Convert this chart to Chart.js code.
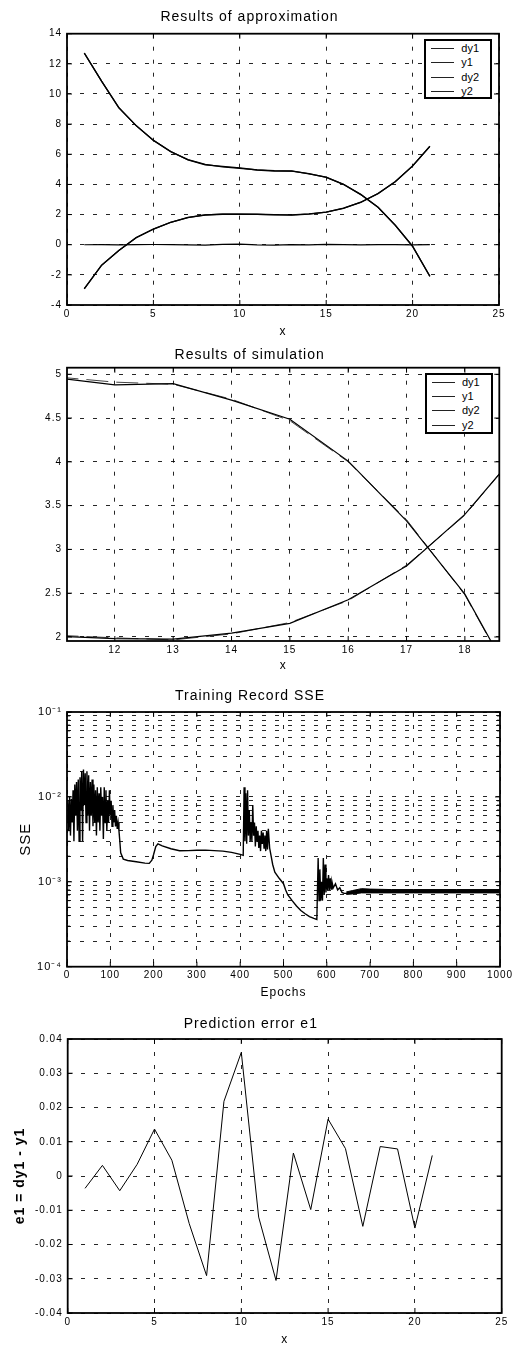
<!DOCTYPE html>
<html>
<head>
<meta charset="utf-8">
<script src="https://cdn.jsdelivr.net/npm/chart.js@4.4.0/dist/chart.umd.min.js"></script>
<style>
  body { margin: 0; background: #fff; }
  #page { position: relative; width: 519px; height: 1347px; }
  .panel { position: absolute; left: 0; width: 519px; }
  .legend { position: absolute; border: 2px solid #000; background: #fff; box-sizing: border-box;
            font: 11px "Liberation Sans", Arial, sans-serif; color: #000; }
  .legend div { position: relative; height: 14.3px; line-height: 14.3px; }
  .legend .line { position: absolute; left: 5px; top: 7px; width: 23px; height: 1px; background: #222; }
  .legend .txt { position: absolute; left: 35px; top: 0; }
</style>
</head>
<body>
<div id="page">
  <div class="panel" id="p1" style="top:0px;height:340px"><canvas id="c1" width="519" height="340"></canvas></div>
  <div class="panel" id="p2" style="top:340px;height:334px"><canvas id="c2" width="519" height="334"></canvas></div>
  <div class="panel" id="p3" style="top:674px;height:326px"><canvas id="c3" width="519" height="326"></canvas></div>
  <div class="panel" id="p4" style="top:1000px;height:347px"><canvas id="c4" width="519" height="347"></canvas></div>
</div>
<script>
// --- data ---
const xs = [1, 2, 3, 4, 5, 6, 7, 8, 9, 10, 11, 12, 13, 14, 15, 16, 17, 18, 19, 20, 21];
const y1 = [12.72, 10.85, 9.09, 7.90, 6.92, 6.18, 5.64, 5.33, 5.17, 5.06, 4.97, 4.91, 4.886, 4.715, 4.47, 4.00, 3.34, 2.48, 1.28, -0.10, -2.10];
const dy1 = [12.716, 10.853, 9.086, 7.903, 6.934, 6.185, 5.626, 5.301, 5.192, 5.096, 4.958, 4.880, 4.893, 4.705, 4.487, 4.008, 3.325, 2.489, 1.288, -0.115, -2.094];
const y2 = [-2.92, -1.37, -0.38, 0.46, 1.04, 1.48, 1.81, 1.97, 2.02, 2.03, 2.02, 1.99, 1.967, 2.035, 2.165, 2.415, 2.82, 3.39, 4.19, 5.22, 6.53];
const dy2 = [-2.93, -1.36, -0.39, 0.47, 1.03, 1.49, 1.80, 1.98, 2.03, 2.02, 2.01, 1.98, 1.975, 2.045, 2.155, 2.425, 2.81, 3.40, 4.18, 5.23, 6.52];
const e1 = [-0.0036, 0.0031, -0.0043, 0.0034, 0.0137, 0.0046, -0.0139, -0.0291, 0.0218, 0.0361, -0.012, -0.0305, 0.0067, -0.0098, 0.0166, 0.008, -0.0147, 0.0086, 0.0079, -0.0152, 0.006];
const seriesNames = ['dy1', 'y1', 'dy2', 'y2'];

const sseEpochs = [
  0, 2, 4, 6, 8, 10, 12, 14, 16, 18, 20, 22, 24, 26, 28, 30, 32, 34, 36, 38, 40, 42, 44, 46, 48, 50,
  52, 54, 56, 58, 60, 62, 64, 66, 68, 70, 72, 74, 76, 78, 80, 82, 84, 86, 88, 90, 92, 94, 96, 98, 100,
  102, 104, 106, 108, 110, 112, 114, 116, 118, 120, 122, 124,
  130, 140, 160, 180, 190, 196, 200, 205, 210, 220, 240, 260, 280, 300, 320, 340, 360, 380, 400, 407,
  409, 411, 413, 415, 417, 419, 421, 423, 425, 427, 429, 431, 433, 435, 437, 439, 441, 443, 445, 447,
  449, 451, 453, 455, 457, 459, 461, 463, 465, 468,
  475, 480, 490, 500, 505, 510, 520, 530, 540, 550, 560, 570, 577,
  580, 582, 584, 586, 588, 590, 592, 594, 596, 598, 600, 602, 604, 606, 608, 610, 612, 615, 620, 625,
  630, 635, 640, 650
];
const sseValues = [
  5.0e-3, 9.0e-3, 4.0e-3, 1.0e-2, 3.5e-3, 9.5e-3, 5.0e-3, 1.2e-2, 3.0e-3, 1.4e-2, 6.0e-3, 1.5e-2, 4.0e-3,
  1.6e-2, 3.0e-3, 1.7e-2, 7.0e-3, 2.0e-2, 3.0e-3, 2.1e-2, 8.0e-3, 1.9e-2, 5.0e-3, 2.0e-2, 6.0e-3, 1.8e-2,
  4.0e-3, 1.5e-2, 6.0e-3, 1.6e-2, 4.5e-3, 1.4e-2, 5.0e-3, 1.2e-2, 3.5e-3, 1.3e-2, 5.0e-3, 1.1e-2, 4.0e-3,
  1.3e-2, 6.0e-3, 1.0e-2, 3.2e-3, 1.3e-2, 5.0e-3, 1.2e-2, 4.0e-3, 9.0e-3, 5.0e-3, 1.2e-2, 6.0e-3,
  9.0e-3, 4.5e-3, 8.0e-3, 5.0e-3, 7.0e-3, 4.5e-3, 6.0e-3, 4.2e-3, 5.0e-3, 4.0e-3, 3.0e-3, 2.2e-3,
  1.85e-3, 1.78e-3, 1.72e-3, 1.66e-3, 1.65e-3, 1.8e-3, 2.1e-3, 2.6e-3, 2.8e-3, 2.65e-3, 2.45e-3, 2.32e-3,
  2.33e-3, 2.35e-3, 2.36e-3, 2.33e-3, 2.3e-3, 2.22e-3, 2.1e-3, 2.05e-3,
  1.3e-2, 3.0e-3, 1.1e-2, 2.8e-3, 1.2e-2, 3.5e-3, 7.0e-3, 3.0e-3, 5.0e-3, 3.0e-3, 8.0e-3, 3.5e-3, 5.0e-3,
  2.6e-3, 4.5e-3, 3.0e-3, 4.0e-3, 2.5e-3, 3.5e-3, 2.3e-3, 4.0e-3, 2.8e-3, 3.8e-3, 2.5e-3, 3.5e-3, 2.3e-3,
  4.0e-3, 2.4e-3, 4.2e-3, 2.5e-3,
  1.6e-3, 1.3e-3, 1.1e-3, 9.5e-4, 8.0e-4, 7.0e-4, 6.0e-4, 5.2e-4, 4.6e-4, 4.2e-4, 3.9e-4, 3.7e-4, 3.6e-4,
  1.9e-3, 6.0e-4, 1.4e-3, 6.0e-4, 1.0e-3, 6.0e-4, 1.9e-3, 7.0e-4, 1.6e-3, 7.5e-4, 1.1e-3, 8.0e-4, 1.2e-3,
  8.0e-4, 1.1e-3, 8.2e-4, 1.0e-3, 8.5e-4, 9.5e-4, 8.0e-4, 8.5e-4, 7.5e-4, 7.3e-4, 7.3e-4
];
// the late, fast oscillation is drawn as a filled band between its envelopes
const bandEpochs = [645, 660, 680, 700, 750, 800, 900, 1000];
const bandUpper = [7.6e-4, 7.9e-4, 8.3e-4, 8.2e-4, 8.1e-4, 8.1e-4, 8.1e-4, 8.1e-4];
const bandLower = [7.1e-4, 7.2e-4, 7.4e-4, 7.4e-4, 7.4e-4, 7.4e-4, 7.4e-4, 7.4e-4];

// --- helpers ---
Chart.defaults.font.family = '"Liberation Sans", Arial, Helvetica, sans-serif';
Chart.defaults.color = '#000';

const SUP = { '-': '\u207B', '0': '\u2070', '1': '\u00B9', '2': '\u00B2', '3': '\u00B3', '4': '\u2074',
              '5': '\u2075', '6': '\u2076', '7': '\u2077', '8': '\u2078', '9': '\u2079' };

function pts(xv, yv) { return xv.map((x, i) => ({ x: x, y: yv[i] })); }

function lineSet(label, xv, yv, extra) {
  return Object.assign({
    label: label, data: pts(xv, yv), borderColor: '#000', borderWidth: 1.3,
    pointRadius: 0, fill: false, tension: 0
  }, extra || {});
}

// old plotting software spaced its letters out a bit
const spacingPlugin = {
  id: 'spacing',
  beforeDraw(chart) { chart.ctx.letterSpacing = '1px'; }
};

// black box round the plot plus small inward tick marks, MATLAB style
const framePlugin = {
  id: 'frame',
  afterDraw(chart) {
    const { ctx, chartArea: a, scales } = chart;
    ctx.save();
    ctx.strokeStyle = '#000';
    ctx.lineWidth = 1;
    ctx.beginPath();
    scales.x.ticks.forEach(t => {
      const p = scales.x.getPixelForValue(t.value);
      ctx.moveTo(p, a.bottom); ctx.lineTo(p, a.bottom - 5);
      ctx.moveTo(p, a.top); ctx.lineTo(p, a.top + 5);
    });
    scales.y.ticks.forEach(t => {
      const p = scales.y.getPixelForValue(t.value);
      const len = scales.y.type === 'logarithmic' && !t.major ? 3 : 5;
      ctx.moveTo(a.left, p); ctx.lineTo(a.left + len, p);
      ctx.moveTo(a.right, p); ctx.lineTo(a.right - len, p);
    });
    ctx.stroke();
    ctx.lineWidth = 1.8;
    ctx.strokeRect(a.left, a.top, a.right - a.left, a.bottom - a.top);
    ctx.restore();
  }
};

function makePanel(canvasId, box, datasets, xOpts, yOpts, titleText) {
  const titleLh = 14 * 1.2;
  const xLh = 12 * 1.2;
  const grid = { color: 'rgba(0,0,0,0.85)', lineWidth: 1, drawTicks: false };
  const border = { display: false, dash: [4, 9] };
  const x = Object.assign({
    type: 'linear', grid: grid, border: border,
    afterFit: s => { s.height = box.H - box.B; }
  }, xOpts);
  x.ticks = Object.assign({ font: { size: 10 }, padding: 3, maxRotation: 0 }, xOpts.ticks || {});
  x.title = Object.assign({
    display: true, font: { size: 12 }, padding: { top: 0, bottom: Math.max(0, box.H - box.xLabelY - xLh / 2) }
  }, xOpts.title || {});
  const y = Object.assign({
    grid: grid, border: border,
    afterFit: s => { s.width = box.L; }
  }, yOpts);
  y.ticks = Object.assign({ font: { size: 10 }, padding: 5 }, yOpts.ticks || {});
  return new Chart(document.getElementById(canvasId), {
    type: 'line',
    data: { datasets: datasets },
    options: {
      responsive: false,
      animation: false,
      devicePixelRatio: 1,
      layout: { padding: { top: box.titleY - titleLh / 2, left: 0, right: 519 - box.R, bottom: 0 } },
      scales: { x: x, y: y },
      plugins: {
        legend: { display: false },
        tooltip: { enabled: false },
        title: {
          display: true, text: titleText, color: '#000',
          font: { size: 14, weight: 'normal' },
          padding: { top: 0, bottom: box.T - box.titleY - titleLh / 2 }
        }
      }
    },
    plugins: [spacingPlugin, framePlugin]
  });
}

function addLegend(panelId, names, pos) {
  const lg = document.createElement('div');
  lg.className = 'legend';
  Object.assign(lg.style, { left: pos.l + 'px', top: pos.t + 'px', width: pos.w + 'px', height: pos.h + 'px' });
  names.forEach(n => {
    const row = document.createElement('div');
    row.innerHTML = '<span class="line"></span><span class="txt">' + n + '</span>';
    lg.appendChild(row);
  });
  document.getElementById(panelId).appendChild(lg);
}

// --- 1. Results of approximation ---
makePanel('c1', { H: 340, L: 67, T: 33.7, R: 499, B: 305, titleY: 17, xLabelY: 332 }, [
  lineSet('dy1', xs, dy1),
  lineSet('y1', xs, y1),
  lineSet('dy2', xs, dy2),
  lineSet('y2', xs, y2),
  lineSet('e1', xs, e1, { borderWidth: 1.2 })
], {
  min: 0, max: 25, ticks: { stepSize: 5 }, title: { text: 'x' }
}, {
  min: -4, max: 14, ticks: { stepSize: 2 }
}, 'Results of approximation');
addLegend('p1', seriesNames, { l: 424.3, t: 39, w: 68, h: 60.3 });

// --- 2. Results of simulation (zoomed view) ---
makePanel('c2', { H: 334, L: 67, T: 27.7, R: 499.3, B: 301, titleY: 15, xLabelY: 326 }, [
  lineSet('dy1', xs, dy1, { borderWidth: 1.2 }),
  lineSet('y1', xs, y1, { borderWidth: 1, borderColor: '#444', borderDash: [22, 8] }),
  lineSet('dy2', xs, dy2, { borderWidth: 1.2 }),
  lineSet('y2', xs, y2, { borderWidth: 1, borderColor: '#444', borderDash: [22, 8] })
], {
  min: 11.18, max: 18.59,
  ticks: { stepSize: 1, includeBounds: false },
  title: { text: 'x' }
}, {
  min: 1.954, max: 5.075,
  ticks: { stepSize: 0.5, includeBounds: false, callback: v => String(v) }
}, 'Results of simulation');
addLegend('p2', seriesNames, { l: 425, t: 32.7, w: 68.3, h: 61.6 });

// --- 3. Training Record SSE ---
makePanel('c3', { H: 326, L: 67, T: 38, R: 500, B: 292.7, titleY: 22, xLabelY: 319 }, [
  lineSet('SSE', sseEpochs, sseValues, { borderWidth: 1.4 }),
  lineSet('upper', bandEpochs, bandUpper, { borderWidth: 1 }),
  lineSet('lower', bandEpochs, bandLower, { borderWidth: 1, fill: '-1', backgroundColor: '#000' })
], {
  min: 0, max: 1000,
  ticks: { stepSize: 100, callback: v => String(v) },
  title: { text: 'Epochs' }
}, {
  type: 'logarithmic', min: 1e-4, max: 1e-1,
  afterBuildTicks: s => {
    s.ticks = s.ticks.filter(t => {
      const m = t.value / Math.pow(10, Math.floor(Math.log10(t.value) + 1e-9));
      return Math.abs(m - Math.round(m)) < 1e-6;
    });
  },
  ticks: {
    autoSkip: false, font: { size: 11 },
    callback: v => {
      const e = Math.log10(v);
      if (Math.abs(e - Math.round(e)) > 1e-6) return '';
      return '10' + String(Math.round(e)).split('').map(c => SUP[c]).join('');
    }
  },
  title: { display: true, text: 'SSE', font: { size: 15 }, padding: { top: 17, bottom: 0 } }
}, 'Training Record SSE');

// --- 4. Prediction error e1 ---
makePanel('c4', { H: 347, L: 67.7, T: 39, R: 501.7, B: 313, titleY: 24, xLabelY: 340 }, [
  lineSet('e1', xs, e1, { borderWidth: 1 })
], {
  min: 0, max: 25, ticks: { stepSize: 5 }, title: { text: 'x' }
}, {
  min: -0.04, max: 0.04,
  ticks: { stepSize: 0.01, callback: v => Math.abs(v) < 1e-9 ? '0' : String(+v.toFixed(2)) },
  title: { display: true, text: 'e1 = dy1 - y1', font: { size: 14, weight: 'bold' }, padding: { top: 12, bottom: 0 } }
}, 'Prediction error e1');
</script>
</body>
</html>
